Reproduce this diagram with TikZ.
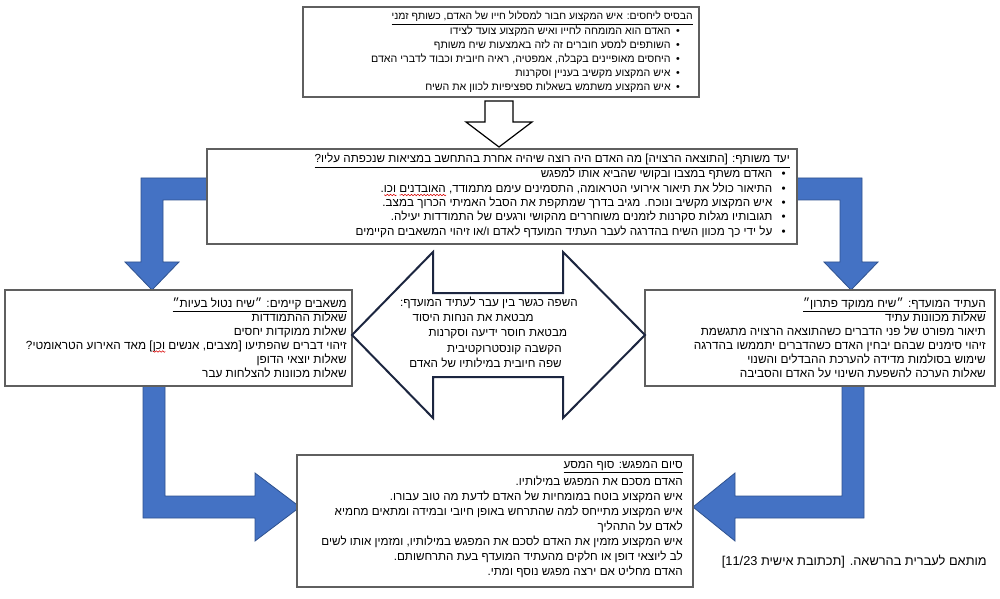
\documentclass[tikz,border=0pt]{standalone}
\usepackage{fontspec}
\setmainfont{Liberation Sans}
\newfontfamily\heb[Script=Hebrew]{Liberation Sans}
\TeXXeTstate=1
\usetikzlibrary{fit,decorations.pathmorphing}
\definecolor{abl}{RGB}{68,114,196}
\definecolor{abd}{RGB}{47,82,143}
\definecolor{bx}{RGB}{95,95,95}
\definecolor{nav}{RGB}{28,38,64}
\newcommand\UR[1]{\mbox{$\underline{\hbox{\beginR#1\endR}}$}}
\newcommand\RL[1]{\vtop{\halign{\hfil\beginR##\endR\cr#1\crcr}}}
\newcommand\bua{•\kern4pt}
\newcommand\bub{•\kern7pt}
\newcommand\midfont{\heb\fontsize{8.75}{10.7}\selectfont}
\newcommand\largefont{\heb\fontsize{8.85}{10.5}\selectfont}
\newlength\sqa \newlength\sqb \newlength\sqc \newlength\sqd \newlength\sqe \newlength\sqf
\tikzset{
  box/.style={draw=bx, line width=1.1pt, fill=white, inner sep=0pt},
  topf/.style={font=\heb\fontsize{8}{10.5}\selectfont, inner sep=0pt, anchor=base east},
  midf/.style={font=\midfont, inner sep=0pt, anchor=base east},
  large/.style={font=\largefont, inner sep=0pt, anchor=base east},
  barrow/.style={fill=abl, draw=abd, line width=0.6pt},
  hollow/.style={draw=black, line width=0.9pt, fill=white},
  dbl/.style={draw=nav, line width=1.5pt, fill=white},
  squig/.style={draw=red!85!black, line width=0.4pt, decorate, decoration={snake, amplitude=0.55pt, segment length=2.4pt}},
}
\begin{document}
\settowidth\sqa{\midfont\beginR•\kern7pt התיאור כולל את תיאור אירועי הטראומה, התסמינים עימם מתמודד, \endR}%
\settowidth\sqb{\midfont\beginR האובדנים\endR}%
\settowidth\sqc{\midfont\beginR האובדנים \endR}%
\settowidth\sqd{\midfont\beginR וכו\endR}%
\settowidth\sqe{\largefont\beginR זיהוי דברים שהפתיעו [מצבים, אנשים \endR}%
\settowidth\sqf{\largefont\beginR וכן\endR}%
\begin{tikzpicture}[x=0.75pt,y=-0.75pt]
\useasboundingbox[fill=white] (0,0) rectangle (1000,599);

% blue elbow arrows (behind boxes)
\draw[barrow] (215,178) -- (141,178) -- (141,262) -- (125,262) -- (152,290) -- (179,262) -- (163,262) -- (163,200) -- (215,200) -- cycle;
\draw[barrow] (790,178) -- (862,178) -- (862,262) -- (878,262) -- (851,290) -- (824,262) -- (840,262) -- (840,200) -- (790,200) -- cycle;
\draw[barrow] (143,380) -- (165,380) -- (165,496) -- (255,496) -- (255,473) -- (300,507) -- (255,541) -- (255,518) -- (143,518) -- cycle;
\draw[barrow] (864,380) -- (842,380) -- (842,496) -- (735,496) -- (735,473) -- (693,507) -- (735,541) -- (735,518) -- (864,518) -- cycle;

% boxes
\node[box, line width=1.4pt, fit={(303,7) (699,97)}] (top) {};
\node[box, fit={(207,149) (797,244)}] (mid) {};
\node[box, line width=0.9pt, fit={(5,290) (352,386)}] (left) {};
\node[box, line width=0.9pt, fit={(645,290) (995,386)}] (right) {};
\node[box, line width=1.3pt, fit={(297,455) (693,587)}] (bot) {};

% hollow arrow top
\draw[hollow] (485,101) -- (513,101) -- (513,122) -- (532,122) -- (499,147) -- (466,122) -- (485,122) -- cycle;

% double arrow centre
\draw[dbl] (352,335) -- (433,252) -- (433,293) -- (563,293) -- (563,252) -- (645,335) -- (563,418) -- (563,377) -- (433,377) -- (433,418) -- cycle;

% top box text
\node[topf, font=\heb\fontsize{7.8}{10.5}\selectfont] (toptitle) at (693,20) {\UR{הבסיס ליחסים: איש המקצוע חבור למסלול חייו של האדם, כשותף זמני}};
\node[topf] (toplist) at (680,35) {\RL{%
\bua האדם הוא המומחה לחייו ואיש המקצוע צועד לצידו\cr
\bua השותפים למסע חוברים זה לזה באמצעות שיח משותף\cr
\bua היחסים מאופיינים בקבלה, אמפטיה, ראיה חיובית וכבוד לדברי האדם\cr
\bua איש המקצוע מקשיב בעניין וסקרנות\cr
\bua איש המקצוע משתמש בשאלות ספציפיות לכוון את השיח}};

% middle box text
\node[midf] (midtitle) at (790,163) {\UR{יעד משותף: [התוצאה הרצויה] מה האדם היה רוצה שיהיה אחרת בהתחשב במציאות שנכפתה עליו?}};
\node[midf] (midlist) at (786,178) {\RL{%
\bub האדם משתף במצבו ובקושי שהביא אותו למפגש\cr
\bub התיאור כולל את תיאור אירועי הטראומה, התסמינים עימם מתמודד, האובדנים וכו.\cr
\bub איש המקצוע מקשיב ונוכח. מגיב בדרך שמתקפת את הסבל האמיתי הכרוך במצב.\cr
\bub תגובותיו מגלות סקרנות לזמנים משוחררים מהקושי ורגעים של התמודדות יעילה.\cr
\bub על ידי כך מכוון השיח בהדרגה לעבר העתיד המועדף לאדם ו/או זיהוי המשאבים הקיימים}};

% left box text
\node[large] (lefttitle) at (347,307) {\UR{משאבים קיימים: ״שיח נטול בעיות״}};
\node[large] (leftlist) at (347,321) {\RL{%
שאלות ההתמודדות\cr
שאלות ממוקדות יחסים\cr
זיהוי דברים שהפתיעו [מצבים, אנשים וכן] מאד האירוע הטראומטי?\cr
שאלות יוצאי הדופן\cr
שאלות מכוונות להצלחות עבר}};

% right box text
\node[large] (righttitle) at (986,307) {\UR{העתיד המועדף: ״שיח ממוקד פתרון״}};
\node[large] (rightlist) at (986,321) {\RL{%
שאלות מכוונות עתיד\cr
תיאור מפורט של פני הדברים כשהתוצאה הרצויה מתגשמת\cr
זיהוי סימנים שבהם יבחין האדם כשהדברים יתממשו בהדרגה\cr
שימוש בסולמות מדידה להערכת ההבדלים והשנוי\cr
שאלות הערכה להשפעת השינוי על האדם והסביבה}};

% centre text
\node[large, font=\heb\fontsize{8.75}{11.6}\selectfont] (centre) at (578,306) {\RL{%
השפה כגשר בין עבר לעתיד המועדף:\cr
\kern33pt מבטאת את הנחות היסוד\cr
\kern8pt מבטאת חוסר ידיעה וסקרנות\cr
\kern12pt הקשבה קונסטרוקטיבית\cr
\kern12pt שפה חיובית במילותיו של האדם}};

% bottom box text
\node[large, font=\heb\fontsize{8.75}{11.25}\selectfont] (bottitle) at (683,468) {\UR{סיום המפגש: סוף המסע}};
\node[large, font=\heb\fontsize{8.75}{11.25}\selectfont] (botlist) at (683,485) {\RL{%
האדם מסכם את המפגש במילותיו.\cr
איש המקצוע בוטח במומחיות של האדם לדעת מה טוב עבורו.\cr
איש המקצוע מתייחס למה שהתרחש באופן חיובי ובמידה ומתאים מחמיא\cr
לאדם על התהליך\cr
איש המקצוע מזמין את האדם לסכם את המפגש במילותיו, ומזמין אותו לשים\cr
לב ליוצאי דופן או חלקים מהעתיד המועדף בעת התרחשותם.\cr
האדם מחליט אם ירצה מפגש נוסף ומתי.}};

% credit
\node[large, font=\heb\fontsize{9.6}{11}\selectfont] (credit) at (987,565) {\beginR מותאם לעברית בהרשאה. [תכתובת אישית \beginL 11/23\endL]\endR};

% spell-check squiggles, placed by the measured text widths
\draw[squig] (786,195) ++(-\sqa,0) -- ++(-\sqb,0);
\draw[squig] (786,195) ++(-\sqa,0) ++(-\sqc,0) -- ++(-\sqd,0);
\draw[squig] (347,351.5) ++(-\sqe,0) -- ++(-\sqf,0);
\end{tikzpicture}
\end{document}
